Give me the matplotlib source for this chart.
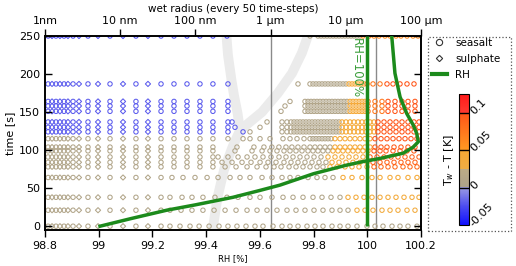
import numpy as np
import matplotlib
matplotlib.use('Agg')
import matplotlib.pyplot as plt
from matplotlib.colors import LinearSegmentedColormap, Normalize
from matplotlib.cm import ScalarMappable
from matplotlib.lines import Line2D
from matplotlib.patches import Rectangle
from matplotlib.ticker import NullLocator

# RH trajectory (RH %, time s)
rh_curve = [99.005, 99.12, 99.253, 99.359, 99.50, 99.60, 99.675, 99.80, 99.92, 99.985,
            100.047, 100.134, 100.171, 100.19, 100.184, 100.171, 100.147, 100.122, 100.103, 100.091]
t_curve = [0, 10, 21, 28, 38, 47, 54, 69, 80, 85, 89, 96, 104, 111, 122, 133, 148, 170, 201, 250]
rh_sat = 100.0
t_sat = [0, 250]

# light grey guide curves (wet radius nm, time s)
guide1_r = [169, 197, 240, 311, 392, 532, 768, 1254, 1926, 2616, 3341]
guide1_t = [-5, 38, 74, 104, 126, 137, 150, 175, 201, 228, 258]
guide2_r = [392, 363, 326, 302, 271, 259, 255]
guide2_t = [126, 149, 172, 192, 225, 250, 260]
ref_radii = [1000, 25200]

# output times (every 50 time-steps)
t_rows = [0, 21, 38, 64, 78, 84, 91, 99, 104, 115, 124, 130, 137, 151, 158, 164, 187, 250]

# small particles, same columns in every row (wet radius nm)
small_ss = [1.10, 1.40, 1.79, 2.36, 3.73, 7.32, 16.2, 34.9]
small_su = [1.24, 1.58, 2.02, 2.83, 5.07, 10.9, 23.4]
dT_small = [0.008, 0.008, 0.008, 0.008, 0.008, 0.008, 0.008, 0.008, 0.008, 0.008,
            -0.02, -0.02, -0.02, -0.02, -0.02, -0.02, -0.02, -0.025]

# rest of each row: wet radius nm and Tw - T
r_000 = [45.9, 62.4, 84.8, 112, 152, 206, 271, 357, 471, 620, 792, 1076, 1418, 1811, 2314, 3048,
         3894, 4975, 6553, 8374, 10700, 14090, 19140, 24450, 31240, 41150, 52570, 67160, 88480]
d_000 = [0.008] * 29
r_021 = [45.9, 64.4, 90.1, 126, 177, 248, 347, 486, 660, 896, 1216, 1652, 2177, 2867, 3777, 4975,
         6553, 8374, 10700, 14090, 18000, 23000, 30290, 38710, 49450, 65140, 83200]
d_021 = [0.008] * 19 + [0.035] * 8
r_038 = [45.9, 66.4, 90.1, 126, 182, 263, 369, 532, 723, 1044, 1462, 1986, 2697, 3663, 4826, 6356,
         8374, 10700, 13660, 17460, 22300, 28500, 36410, 46520, 59420, 75920, 94060]
d_038 = [0.008] * 17 + [0.04] * 10
r_064 = [48.8, 68.4, 98.8, 143, 200, 289, 392, 532, 769, 1044, 1418, 1811, 2314, 3143, 4140, 5289,
         6757, 9180, 12090, 16420, 22300, 28500, 38710, 49450, 67160, 88480]
d_064 = [0.008] * 17 + [0.045] * 9
r_078 = [51.9, 77.3, 115, 171, 248, 347, 486, 660, 869, 1110, 1375, 1757, 2177, 2697, 3341, 4140,
         4975, 6165, 7638, 9759, 12090, 14980, 19140, 23710, 29380, 36410, 45110, 57620, 71420, 88480]
d_078 = [0.008] * 17 + [0.04] * 6 + [0.085] * 7
r_084 = [51.9, 77.3, 115, 171, 226, 307, 417, 549, 724, 924, 1180, 1507, 1867, 2314, 2867, 3552,
         4401, 5455, 6553, 8120, 10060, 12460, 15450, 19140, 23000, 28500, 35310, 43750, 54200,
         67160, 83200]
d_084 = [0.008] * 18 + [0.04] * 6 + [0.09] * 7
r_091 = [51.9, 77.3, 115, 171, 200, 271, 369, 486, 620, 792, 1012, 1293, 1602, 1986, 2460, 3048,
         3777, 4680, 5799, 7184, 8904, 11030, 13660, 16930, 20980, 26000, 32210, 39920, 49450,
         61270, 75920, 94060]
d_091 = [0.008] * 18 + [0.04] * 6 + [0.09] * 8
r_099 = [51.9, 77.3, 115, 171, 336, 566, 769, 982, 1216, 1507, 1811, 2177, 2616, 3143, 3663, 4269,
         4975, 5799, 6757, 7876, 9180, 10700, 12460, 14530, 16930, 19730, 23710, 28500, 34240,
         42440, 52570, 65140, 80690]
d_099 = [0.008] * 18 + [0.045] * 8 + [0.095] * 7
r_104 = [51.9, 77.3, 115, 171, 357, 600, 815, 1040, 1290, 1600, 1920, 2310, 2780, 3340, 3890, 4540,
         5290, 6160, 7180, 8370, 9760, 11370, 13250, 15450, 18000, 20980, 24450, 29380, 35310,
         43750, 54200, 67160, 83200]
d_104 = [0.008] * 18 + [0.045] * 8 + [0.095] * 7
r_115 = [51.9, 77.3, 115, 171, 271, 430, 532, 723, 982, 1462, 1811, 2244, 2781, 3341, 3663, 4015,
         4401, 4826, 5289, 5799, 6356, 7184, 8374, 9759, 11370, 13250, 15450, 18000, 20980, 24450,
         29380, 35310, 42440, 50970, 61270, 73620, 88480]
d_115 = [0.008] * 21 + [0.045] * 8 + [0.1] * 8
r_124 = [51.9, 77.3, 115, 171, 271, 430, 532, 1418, 1652, 1867, 2048, 2244, 2460, 2697, 2956, 3240,
         3552, 3894, 4269, 4680, 5130, 5623, 6165, 6757, 7408, 8120, 8904, 10060, 11370, 12850,
         14530, 16420, 18560, 20980, 23710, 26810, 32210, 38710, 46520, 55880, 67160, 80690, 94060]
d_124 = [-0.02] * 6 + [0.008] * 20 + [0.045] * 9 + [0.1] * 8
r_130 = [51.9, 77.3, 115, 171, 271, 336, 723, 1418, 1652, 1867, 2048, 2244, 2460, 2697, 2956, 3240,
         3552, 3894, 4269, 4680, 5130, 5623, 6165, 6757, 7408, 8120, 8904, 10060, 11370, 12850,
         14530, 16420, 18560, 20980, 23710, 26810, 32210, 38710, 46520, 55880, 67160, 80690, 94060]
d_130 = [-0.02] * 6 + [0.008] * 20 + [0.045] * 9 + [0.1] * 8
r_137 = [51.9, 77.3, 115, 171, 271, 307, 896, 1418, 1652, 1867, 2048, 2244, 2460, 2697, 2956, 3240,
         3552, 3894, 4269, 4680, 5130, 5623, 6165, 6757, 7408, 8120, 8904, 10060, 11370, 12850,
         14530, 16420, 18560, 20980, 23710, 26810, 32210, 38710, 46520, 55880, 67160, 80690, 94060]
d_137 = [-0.02] * 6 + [0.008] * 20 + [0.045] * 9 + [0.1] * 8
r_151 = [51.9, 77.3, 115, 171, 271, 1375, 2867, 3143, 3445, 3777, 4140, 4539, 4975, 5455, 5979,
         6553, 7184, 7876, 8635, 9463, 10370, 11370, 12460, 13660, 14980, 16420, 18000, 19730,
         24450, 30290, 36410, 45110, 55880, 67160, 83200]
d_151 = [-0.02] * 5 + [0.008] * 16 + [0.045] * 6 + [0.075] * 3 + [0.1] * 5
r_158 = [51.9, 77.3, 115, 171, 271, 1554, 2867, 3143, 3445, 3777, 4140, 4539, 4975, 5455, 5979,
         6553, 7184, 7876, 8635, 9463, 10370, 11370, 12460, 13660, 14980, 16420, 18000, 19730,
         24450, 30290, 36410, 45110, 55880, 67160, 83200]
d_158 = [-0.02] * 5 + [0.008] * 16 + [0.045] * 6 + [0.075] * 3 + [0.1] * 5
r_164 = [51.9, 77.3, 115, 171, 271, 1811, 2867, 3143, 3445, 3777, 4140, 4539, 4975, 5455, 5979,
         6553, 7184, 7876, 8635, 9463, 10370, 11370, 12460, 13660, 14980, 16420, 18000, 19730,
         24450, 30290, 36410, 45110, 55880, 67160, 83200]
d_164 = [-0.02] * 5 + [0.008] * 16 + [0.045] * 6 + [0.075] * 3 + [0.1] * 5
r_187 = [51.9, 77.3, 115, 171, 271, 2314, 3341, 3663, 4015, 4401, 4826, 5289, 5799, 6356, 6967,
         7638, 8374, 9180, 10060, 11030, 12090, 13250, 14530, 15920, 17460, 19140, 23000, 28500,
         35310, 42440, 52570, 65140, 80690]
d_187 = [-0.02] * 5 + [0.008] * 14 + [0.045] * 6 + [0.075] * 3 + [0.1] * 5
r_250 = [51.9, 77.3, 115, 171, 263, 3341, 4269, 4680, 5130, 5623, 6165, 6757, 7408, 8120, 8904,
         9759, 10700, 11730, 12850, 14090, 15450, 16930, 20340, 23710, 27640, 33210, 38710, 46520,
         54200, 65140, 78300, 91210]
d_250 = [-0.025] * 5 + [0.008] * 16 + [0.06] * 11

rows_r = [r_000, r_021, r_038, r_064, r_078, r_084, r_091, r_099, r_104, r_115,
          r_124, r_130, r_137, r_151, r_158, r_164, r_187, r_250]
rows_d = [d_000, d_021, d_038, d_064, d_078, d_084, d_091, d_099, d_104, d_115,
          d_124, d_130, d_137, d_151, d_158, d_164, d_187, d_250]

# colour scale of Tw - T
cb_lo, cb_hi = -0.05, 0.125
cb_nodes = [(-0.05, '#1010ff'), (-0.025, '#4c4cf0'), (0.0, '#9c9ce2'), (0.0, '#aca28a'),
            (0.024, '#bcab86'), (0.024, '#efae44'), (0.05, '#f6a834'), (0.05, '#ff9a22'),
            (0.1, '#ff5518'), (0.1, '#ff3a30'), (0.125, '#ff1a1a')]
cmap = LinearSegmentedColormap.from_list(
    'tw', [((v - cb_lo) / (cb_hi - cb_lo), c) for v, c in cb_nodes], N=512)
norm = Normalize(cb_lo, cb_hi)

green = '#1c8a1c'

fig = plt.figure(figsize=(5.16, 2.66), dpi=100)
ax = fig.add_axes([45 / 516, 1 - 230 / 266, 376 / 516, 194 / 266])
axt = ax.twiny()
ax.set_zorder(axt.get_zorder() + 1)
ax.patch.set_visible(False)

axt.set_xscale('log')
axt.set_xlim(1, 1e5)
ax.set_xlim(98.8, 100.2)
ax.set_ylim(-5, 250)

# grey guides
axt.plot(guide1_r, guide1_t, color='#ebebeb', lw=7, zorder=1, solid_capstyle='butt')
axt.plot(guide2_r, guide2_t, color='#ebebeb', lw=7, zorder=1, solid_capstyle='butt')
for r in ref_radii:
    axt.axvline(r, color='#8a8a8a', lw=1, zorder=1.5)

# particles
for t, ds, rr, dd in zip(t_rows, dT_small, rows_r, rows_d):
    axt.scatter(small_ss, [t] * len(small_ss), s=10, marker='o', facecolors='none',
                edgecolors=cmap(norm([ds] * len(small_ss))), linewidths=0.75, zorder=2)
    axt.scatter(small_su, [t] * len(small_su), s=7, marker='D', facecolors='none',
                edgecolors=cmap(norm([ds] * len(small_su))), linewidths=0.75, zorder=2)
    axt.scatter(rr, [t] * len(rr), s=10, marker='o', facecolors='none',
                edgecolors=cmap(norm(dd)), linewidths=0.75, zorder=2)

# RH
ax.plot(rh_curve, t_curve, color=green, lw=2.5, zorder=3)
ax.vlines(rh_sat, t_sat[0], t_sat[1], color=green, lw=2.5, zorder=3)
ax.text(99.958, 247, 'RH=100%', rotation=270, color='#3a9e3a', fontsize=8.5,
        ha='center', va='top')

ax.set_xticks([98.8, 99, 99.2, 99.4, 99.6, 99.8, 100, 100.2])
ax.set_xticklabels(['98.8', '99', '99.2', '99.4', '99.6', '99.8', '100', '100.2'])
ax.set_yticks([0, 50, 100, 150, 200, 250])
ax.tick_params(axis='y', direction='in', right=True, length=5, width=1, labelsize=8)
ax.tick_params(axis='x', direction='out', length=5, width=1, labelsize=8, pad=3)
ax.set_xlabel('RH [%]', fontsize=6, labelpad=2)
ax.set_ylabel('time [s]', fontsize=8, labelpad=3)

axt.set_xticks([1, 10, 100, 1000, 1e4, 1e5])
axt.set_xticklabels(['1nm', '10 nm', '100 nm', '1 \u00b5m', '10 \u00b5m', '100 \u00b5m'])
axt.xaxis.set_minor_locator(NullLocator())
axt.tick_params(axis='x', direction='out', length=5, width=1, labelsize=8, pad=2)
axt.set_xlabel('wet radius (every 50 time-steps)', fontsize=7.5, labelpad=3)
for a in (ax, axt):
    for sp in a.spines.values():
        sp.set_linewidth(1.2)

# legend box
fig.patches.append(Rectangle((428 / 516, 1 - 231 / 266), 83 / 516, 194 / 266,
                             transform=fig.transFigure, fill=False, ls=':', lw=0.9,
                             ec='#555555'))
handles = [Line2D([], [], marker='o', ls='none', mfc='none', mec='#333333', ms=4.5, mew=0.8),
           Line2D([], [], marker='D', ls='none', mfc='none', mec='#333333', ms=3.2, mew=0.8),
           Line2D([], [], color=green, lw=3)]
fig.legend(handles, ['seasalt', 'sulphate', 'RH'], loc='upper left',
           bbox_to_anchor=(430 / 516, 1 - 36 / 266), frameon=False, fontsize=7.5,
           handlelength=1.4, handletextpad=0.8, labelspacing=0.55, borderaxespad=0,
           borderpad=0.2)

cax = fig.add_axes([459 / 516, 1 - 225 / 266, 10 / 516, 131 / 266])
cb = fig.colorbar(ScalarMappable(norm=norm, cmap=cmap), cax=cax, ticks=[-0.05, 0, 0.05, 0.1])
cb.set_ticklabels(['-0.05', '0', '0.05', '0.1'])
cb.outline.set_linewidth(0.8)
for v in [0, 0.05, 0.1]:
    cax.axhline(v, color='k', lw=1)
cax.tick_params(length=0, labelsize=8, pad=2)
for lab in cax.get_yticklabels():
    lab.set_rotation(45)
    lab.set_rotation_mode('anchor')
    lab.set_ha('left')
    lab.set_va('center')
cb.set_label('T$_w$ - T [K]', fontsize=8, labelpad=2)
cax.yaxis.set_label_position('left')

fig.savefig('out.png', dpi=100)
